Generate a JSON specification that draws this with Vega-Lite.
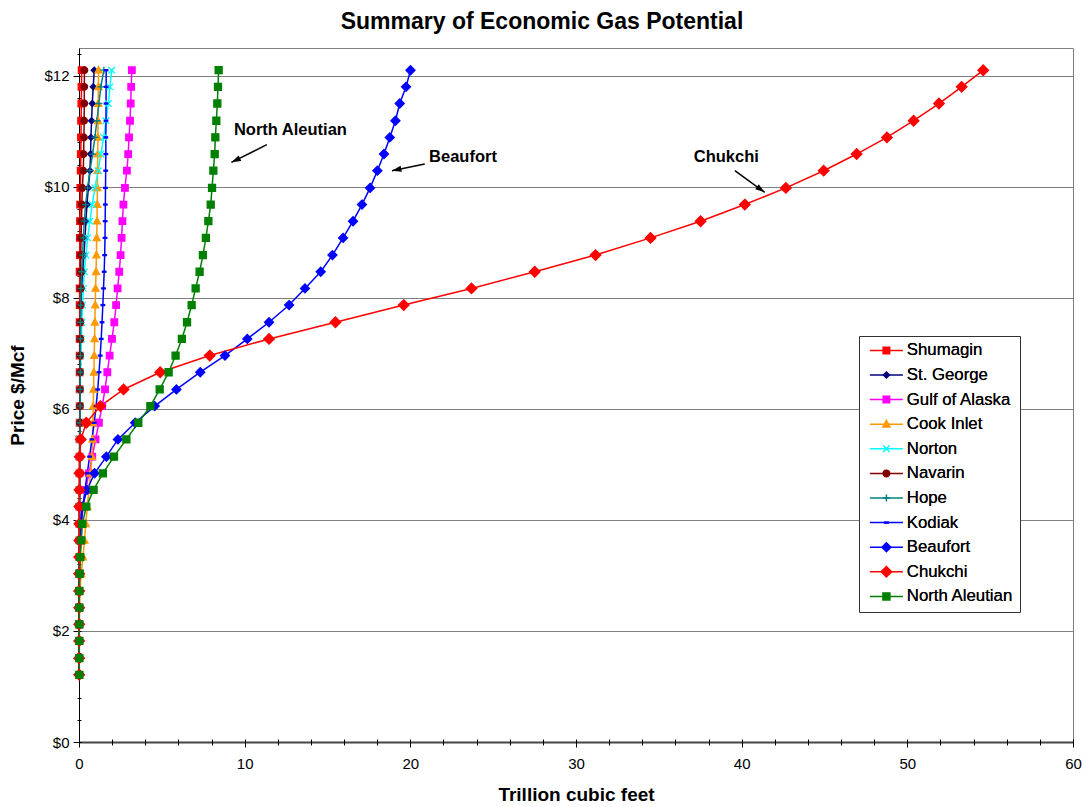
{
  "$schema": "https://vega.github.io/schema/vega-lite/v6.json",
  "width": 994,
  "height": 694,
  "autosize": {"type": "none"},
  "padding": {"left": 79, "top": 48, "right": 11, "bottom": 65},
  "background": "#ffffff",
  "title": {
    "text": "Summary of Economic Gas Potential",
    "font": "Liberation Sans",
    "fontSize": 23,
    "fontWeight": "bold",
    "color": "#000000",
    "anchor": "middle",
    "frame": "group",
    "dx": -34,
    "offset": 14
  },
  "config": {
    "view": {"stroke": "#808080", "strokeWidth": 1},
    "axis": {"labelFont": "Liberation Sans", "titleFont": "Liberation Sans", "labelColor": "#000000", "titleColor": "#000000"},
    "legend": {
      "title": null, "orient": "none", "legendX": 780, "legendY": 288,
      "padding": 6,
      "labelFont": "Liberation Sans", "labelFontSize": 16.8, "labelColor": "#000000",
      "symbolSize": 100, "symbolOffset": 13, "labelOffset": 12, "rowPadding": 6.6
    }
  },
  "datasets": {
    "gas": [
      {"region": "Shumagin", "price": 1.21, "tcf": 0.01}, {"region": "Shumagin", "price": 1.51, "tcf": 0.01}, {"region": "Shumagin", "price": 1.82, "tcf": 0.01}, {"region": "Shumagin", "price": 2.12, "tcf": 0.01}, {"region": "Shumagin", "price": 2.42, "tcf": 0.01}, {"region": "Shumagin", "price": 2.72, "tcf": 0.01}, {"region": "Shumagin", "price": 3.03, "tcf": 0.01}, {"region": "Shumagin", "price": 3.33, "tcf": 0.02}, {"region": "Shumagin", "price": 3.63, "tcf": 0.02}, {"region": "Shumagin", "price": 3.93, "tcf": 0.02}, {"region": "Shumagin", "price": 4.24, "tcf": 0.02}, {"region": "Shumagin", "price": 4.54, "tcf": 0.03}, {"region": "Shumagin", "price": 4.84, "tcf": 0.03}, {"region": "Shumagin", "price": 5.14, "tcf": 0.03}, {"region": "Shumagin", "price": 5.45, "tcf": 0.03}, {"region": "Shumagin", "price": 5.75, "tcf": 0.04}, {"region": "Shumagin", "price": 6.05, "tcf": 0.04}, {"region": "Shumagin", "price": 6.35, "tcf": 0.04}, {"region": "Shumagin", "price": 6.66, "tcf": 0.04}, {"region": "Shumagin", "price": 6.96, "tcf": 0.04}, {"region": "Shumagin", "price": 7.26, "tcf": 0.04}, {"region": "Shumagin", "price": 7.56, "tcf": 0.04}, {"region": "Shumagin", "price": 7.87, "tcf": 0.04}, {"region": "Shumagin", "price": 8.17, "tcf": 0.04}, {"region": "Shumagin", "price": 8.47, "tcf": 0.04}, {"region": "Shumagin", "price": 8.77, "tcf": 0.05}, {"region": "Shumagin", "price": 9.08, "tcf": 0.05}, {"region": "Shumagin", "price": 9.38, "tcf": 0.06}, {"region": "Shumagin", "price": 9.68, "tcf": 0.07}, {"region": "Shumagin", "price": 9.98, "tcf": 0.08}, {"region": "Shumagin", "price": 10.29, "tcf": 0.1}, {"region": "Shumagin", "price": 10.59, "tcf": 0.11}, {"region": "Shumagin", "price": 10.89, "tcf": 0.12}, {"region": "Shumagin", "price": 11.19, "tcf": 0.13}, {"region": "Shumagin", "price": 11.5, "tcf": 0.14}, {"region": "Shumagin", "price": 11.8, "tcf": 0.15}, {"region": "Shumagin", "price": 12.1, "tcf": 0.16},
      {"region": "St. George", "price": 1.21, "tcf": 0.01}, {"region": "St. George", "price": 1.51, "tcf": 0.01}, {"region": "St. George", "price": 1.82, "tcf": 0.01}, {"region": "St. George", "price": 2.12, "tcf": 0.01}, {"region": "St. George", "price": 2.42, "tcf": 0.01}, {"region": "St. George", "price": 2.72, "tcf": 0.01}, {"region": "St. George", "price": 3.03, "tcf": 0.01}, {"region": "St. George", "price": 3.33, "tcf": 0.02}, {"region": "St. George", "price": 3.63, "tcf": 0.02}, {"region": "St. George", "price": 3.93, "tcf": 0.03}, {"region": "St. George", "price": 4.24, "tcf": 0.03}, {"region": "St. George", "price": 4.54, "tcf": 0.04}, {"region": "St. George", "price": 4.84, "tcf": 0.04}, {"region": "St. George", "price": 5.14, "tcf": 0.04}, {"region": "St. George", "price": 5.45, "tcf": 0.05}, {"region": "St. George", "price": 5.75, "tcf": 0.05}, {"region": "St. George", "price": 6.05, "tcf": 0.05}, {"region": "St. George", "price": 6.35, "tcf": 0.06}, {"region": "St. George", "price": 6.66, "tcf": 0.06}, {"region": "St. George", "price": 6.96, "tcf": 0.07}, {"region": "St. George", "price": 7.26, "tcf": 0.08}, {"region": "St. George", "price": 7.56, "tcf": 0.1}, {"region": "St. George", "price": 7.87, "tcf": 0.12}, {"region": "St. George", "price": 8.17, "tcf": 0.16}, {"region": "St. George", "price": 8.47, "tcf": 0.22}, {"region": "St. George", "price": 8.77, "tcf": 0.3}, {"region": "St. George", "price": 9.08, "tcf": 0.36}, {"region": "St. George", "price": 9.38, "tcf": 0.42}, {"region": "St. George", "price": 9.68, "tcf": 0.48}, {"region": "St. George", "price": 9.98, "tcf": 0.56}, {"region": "St. George", "price": 10.29, "tcf": 0.66}, {"region": "St. George", "price": 10.59, "tcf": 0.7}, {"region": "St. George", "price": 10.89, "tcf": 0.72}, {"region": "St. George", "price": 11.19, "tcf": 0.76}, {"region": "St. George", "price": 11.5, "tcf": 0.8}, {"region": "St. George", "price": 11.8, "tcf": 0.86}, {"region": "St. George", "price": 12.1, "tcf": 0.92},
      {"region": "Gulf of Alaska", "price": 1.21, "tcf": 0.01}, {"region": "Gulf of Alaska", "price": 1.51, "tcf": 0.01}, {"region": "Gulf of Alaska", "price": 1.82, "tcf": 0.01}, {"region": "Gulf of Alaska", "price": 2.12, "tcf": 0.02}, {"region": "Gulf of Alaska", "price": 2.42, "tcf": 0.02}, {"region": "Gulf of Alaska", "price": 2.72, "tcf": 0.02}, {"region": "Gulf of Alaska", "price": 3.03, "tcf": 0.03}, {"region": "Gulf of Alaska", "price": 3.33, "tcf": 0.06}, {"region": "Gulf of Alaska", "price": 3.63, "tcf": 0.1}, {"region": "Gulf of Alaska", "price": 3.93, "tcf": 0.15}, {"region": "Gulf of Alaska", "price": 4.24, "tcf": 0.25}, {"region": "Gulf of Alaska", "price": 4.54, "tcf": 0.4}, {"region": "Gulf of Alaska", "price": 4.84, "tcf": 0.6}, {"region": "Gulf of Alaska", "price": 5.14, "tcf": 0.8}, {"region": "Gulf of Alaska", "price": 5.45, "tcf": 1.0}, {"region": "Gulf of Alaska", "price": 5.75, "tcf": 1.2}, {"region": "Gulf of Alaska", "price": 6.05, "tcf": 1.4}, {"region": "Gulf of Alaska", "price": 6.35, "tcf": 1.57}, {"region": "Gulf of Alaska", "price": 6.66, "tcf": 1.71}, {"region": "Gulf of Alaska", "price": 6.96, "tcf": 1.85}, {"region": "Gulf of Alaska", "price": 7.26, "tcf": 1.99}, {"region": "Gulf of Alaska", "price": 7.56, "tcf": 2.13}, {"region": "Gulf of Alaska", "price": 7.87, "tcf": 2.24}, {"region": "Gulf of Alaska", "price": 8.17, "tcf": 2.33}, {"region": "Gulf of Alaska", "price": 8.47, "tcf": 2.43}, {"region": "Gulf of Alaska", "price": 8.77, "tcf": 2.51}, {"region": "Gulf of Alaska", "price": 9.08, "tcf": 2.57}, {"region": "Gulf of Alaska", "price": 9.38, "tcf": 2.62}, {"region": "Gulf of Alaska", "price": 9.68, "tcf": 2.68}, {"region": "Gulf of Alaska", "price": 9.98, "tcf": 2.77}, {"region": "Gulf of Alaska", "price": 10.29, "tcf": 2.89}, {"region": "Gulf of Alaska", "price": 10.59, "tcf": 2.97}, {"region": "Gulf of Alaska", "price": 10.89, "tcf": 3.02}, {"region": "Gulf of Alaska", "price": 11.19, "tcf": 3.08}, {"region": "Gulf of Alaska", "price": 11.5, "tcf": 3.12}, {"region": "Gulf of Alaska", "price": 11.8, "tcf": 3.15}, {"region": "Gulf of Alaska", "price": 12.1, "tcf": 3.19},
      {"region": "Cook Inlet", "price": 1.21, "tcf": 0.01}, {"region": "Cook Inlet", "price": 1.51, "tcf": 0.01}, {"region": "Cook Inlet", "price": 1.82, "tcf": 0.01}, {"region": "Cook Inlet", "price": 2.12, "tcf": 0.01}, {"region": "Cook Inlet", "price": 2.42, "tcf": 0.03}, {"region": "Cook Inlet", "price": 2.72, "tcf": 0.06}, {"region": "Cook Inlet", "price": 3.03, "tcf": 0.13}, {"region": "Cook Inlet", "price": 3.33, "tcf": 0.24}, {"region": "Cook Inlet", "price": 3.63, "tcf": 0.33}, {"region": "Cook Inlet", "price": 3.93, "tcf": 0.41}, {"region": "Cook Inlet", "price": 4.24, "tcf": 0.5}, {"region": "Cook Inlet", "price": 4.54, "tcf": 0.6}, {"region": "Cook Inlet", "price": 4.84, "tcf": 0.7}, {"region": "Cook Inlet", "price": 5.14, "tcf": 0.78}, {"region": "Cook Inlet", "price": 5.45, "tcf": 0.82}, {"region": "Cook Inlet", "price": 5.75, "tcf": 0.84}, {"region": "Cook Inlet", "price": 6.05, "tcf": 0.86}, {"region": "Cook Inlet", "price": 6.35, "tcf": 0.88}, {"region": "Cook Inlet", "price": 6.66, "tcf": 0.9}, {"region": "Cook Inlet", "price": 6.96, "tcf": 0.92}, {"region": "Cook Inlet", "price": 7.26, "tcf": 0.94}, {"region": "Cook Inlet", "price": 7.56, "tcf": 0.96}, {"region": "Cook Inlet", "price": 7.87, "tcf": 0.98}, {"region": "Cook Inlet", "price": 8.17, "tcf": 1.0}, {"region": "Cook Inlet", "price": 8.47, "tcf": 1.03}, {"region": "Cook Inlet", "price": 8.77, "tcf": 1.05}, {"region": "Cook Inlet", "price": 9.08, "tcf": 1.07}, {"region": "Cook Inlet", "price": 9.38, "tcf": 1.09}, {"region": "Cook Inlet", "price": 9.68, "tcf": 1.1}, {"region": "Cook Inlet", "price": 9.98, "tcf": 1.11}, {"region": "Cook Inlet", "price": 10.29, "tcf": 1.12}, {"region": "Cook Inlet", "price": 10.59, "tcf": 1.13}, {"region": "Cook Inlet", "price": 10.89, "tcf": 1.14}, {"region": "Cook Inlet", "price": 11.19, "tcf": 1.15}, {"region": "Cook Inlet", "price": 11.5, "tcf": 1.16}, {"region": "Cook Inlet", "price": 11.8, "tcf": 1.17}, {"region": "Cook Inlet", "price": 12.1, "tcf": 1.18},
      {"region": "Norton", "price": 1.21, "tcf": 0.01}, {"region": "Norton", "price": 1.51, "tcf": 0.01}, {"region": "Norton", "price": 1.82, "tcf": 0.01}, {"region": "Norton", "price": 2.12, "tcf": 0.01}, {"region": "Norton", "price": 2.42, "tcf": 0.01}, {"region": "Norton", "price": 2.72, "tcf": 0.01}, {"region": "Norton", "price": 3.03, "tcf": 0.01}, {"region": "Norton", "price": 3.33, "tcf": 0.02}, {"region": "Norton", "price": 3.63, "tcf": 0.02}, {"region": "Norton", "price": 3.93, "tcf": 0.02}, {"region": "Norton", "price": 4.24, "tcf": 0.02}, {"region": "Norton", "price": 4.54, "tcf": 0.03}, {"region": "Norton", "price": 4.84, "tcf": 0.03}, {"region": "Norton", "price": 5.14, "tcf": 0.03}, {"region": "Norton", "price": 5.45, "tcf": 0.04}, {"region": "Norton", "price": 5.75, "tcf": 0.05}, {"region": "Norton", "price": 6.05, "tcf": 0.06}, {"region": "Norton", "price": 6.35, "tcf": 0.07}, {"region": "Norton", "price": 6.66, "tcf": 0.09}, {"region": "Norton", "price": 6.96, "tcf": 0.11}, {"region": "Norton", "price": 7.26, "tcf": 0.14}, {"region": "Norton", "price": 7.56, "tcf": 0.17}, {"region": "Norton", "price": 7.87, "tcf": 0.21}, {"region": "Norton", "price": 8.17, "tcf": 0.26}, {"region": "Norton", "price": 8.47, "tcf": 0.32}, {"region": "Norton", "price": 8.77, "tcf": 0.42}, {"region": "Norton", "price": 9.08, "tcf": 0.52}, {"region": "Norton", "price": 9.38, "tcf": 0.66}, {"region": "Norton", "price": 9.68, "tcf": 0.8}, {"region": "Norton", "price": 9.98, "tcf": 0.96}, {"region": "Norton", "price": 10.29, "tcf": 1.16}, {"region": "Norton", "price": 10.59, "tcf": 1.32}, {"region": "Norton", "price": 10.89, "tcf": 1.49}, {"region": "Norton", "price": 11.19, "tcf": 1.63}, {"region": "Norton", "price": 11.5, "tcf": 1.77}, {"region": "Norton", "price": 11.8, "tcf": 1.87}, {"region": "Norton", "price": 12.1, "tcf": 1.97},
      {"region": "Navarin", "price": 1.21, "tcf": 0.01}, {"region": "Navarin", "price": 1.51, "tcf": 0.01}, {"region": "Navarin", "price": 1.82, "tcf": 0.01}, {"region": "Navarin", "price": 2.12, "tcf": 0.01}, {"region": "Navarin", "price": 2.42, "tcf": 0.01}, {"region": "Navarin", "price": 2.72, "tcf": 0.01}, {"region": "Navarin", "price": 3.03, "tcf": 0.01}, {"region": "Navarin", "price": 3.33, "tcf": 0.02}, {"region": "Navarin", "price": 3.63, "tcf": 0.02}, {"region": "Navarin", "price": 3.93, "tcf": 0.02}, {"region": "Navarin", "price": 4.24, "tcf": 0.03}, {"region": "Navarin", "price": 4.54, "tcf": 0.03}, {"region": "Navarin", "price": 4.84, "tcf": 0.04}, {"region": "Navarin", "price": 5.14, "tcf": 0.04}, {"region": "Navarin", "price": 5.45, "tcf": 0.05}, {"region": "Navarin", "price": 5.75, "tcf": 0.05}, {"region": "Navarin", "price": 6.05, "tcf": 0.06}, {"region": "Navarin", "price": 6.35, "tcf": 0.06}, {"region": "Navarin", "price": 6.66, "tcf": 0.07}, {"region": "Navarin", "price": 6.96, "tcf": 0.07}, {"region": "Navarin", "price": 7.26, "tcf": 0.08}, {"region": "Navarin", "price": 7.56, "tcf": 0.08}, {"region": "Navarin", "price": 7.87, "tcf": 0.09}, {"region": "Navarin", "price": 8.17, "tcf": 0.1}, {"region": "Navarin", "price": 8.47, "tcf": 0.1}, {"region": "Navarin", "price": 8.77, "tcf": 0.11}, {"region": "Navarin", "price": 9.08, "tcf": 0.12}, {"region": "Navarin", "price": 9.38, "tcf": 0.15}, {"region": "Navarin", "price": 9.68, "tcf": 0.17}, {"region": "Navarin", "price": 9.98, "tcf": 0.2}, {"region": "Navarin", "price": 10.29, "tcf": 0.26}, {"region": "Navarin", "price": 10.59, "tcf": 0.28}, {"region": "Navarin", "price": 10.89, "tcf": 0.3}, {"region": "Navarin", "price": 11.19, "tcf": 0.31}, {"region": "Navarin", "price": 11.5, "tcf": 0.32}, {"region": "Navarin", "price": 11.8, "tcf": 0.32}, {"region": "Navarin", "price": 12.1, "tcf": 0.33},
      {"region": "Hope", "price": 1.21, "tcf": 0.01}, {"region": "Hope", "price": 1.51, "tcf": 0.01}, {"region": "Hope", "price": 1.82, "tcf": 0.01}, {"region": "Hope", "price": 2.12, "tcf": 0.01}, {"region": "Hope", "price": 2.42, "tcf": 0.01}, {"region": "Hope", "price": 2.72, "tcf": 0.01}, {"region": "Hope", "price": 3.03, "tcf": 0.01}, {"region": "Hope", "price": 3.33, "tcf": 0.02}, {"region": "Hope", "price": 3.63, "tcf": 0.02}, {"region": "Hope", "price": 3.93, "tcf": 0.03}, {"region": "Hope", "price": 4.24, "tcf": 0.03}, {"region": "Hope", "price": 4.54, "tcf": 0.04}, {"region": "Hope", "price": 4.84, "tcf": 0.05}, {"region": "Hope", "price": 5.14, "tcf": 0.05}, {"region": "Hope", "price": 5.45, "tcf": 0.06}, {"region": "Hope", "price": 5.75, "tcf": 0.06}, {"region": "Hope", "price": 6.05, "tcf": 0.07}, {"region": "Hope", "price": 6.35, "tcf": 0.07}, {"region": "Hope", "price": 6.66, "tcf": 0.08}, {"region": "Hope", "price": 6.96, "tcf": 0.08}, {"region": "Hope", "price": 7.26, "tcf": 0.09}, {"region": "Hope", "price": 7.56, "tcf": 0.09}, {"region": "Hope", "price": 7.87, "tcf": 0.1}, {"region": "Hope", "price": 8.17, "tcf": 0.12}, {"region": "Hope", "price": 8.47, "tcf": 0.16}, {"region": "Hope", "price": 8.77, "tcf": 0.22}, {"region": "Hope", "price": 9.08, "tcf": 0.26}, {"region": "Hope", "price": 9.38, "tcf": 0.32}, {"region": "Hope", "price": 9.68, "tcf": 0.4}, {"region": "Hope", "price": 9.98, "tcf": 0.52}, {"region": "Hope", "price": 10.29, "tcf": 0.66}, {"region": "Hope", "price": 10.59, "tcf": 0.82}, {"region": "Hope", "price": 10.89, "tcf": 0.96}, {"region": "Hope", "price": 11.19, "tcf": 1.08}, {"region": "Hope", "price": 11.5, "tcf": 1.2}, {"region": "Hope", "price": 11.8, "tcf": 1.32}, {"region": "Hope", "price": 12.1, "tcf": 1.5},
      {"region": "Kodiak", "price": 1.21, "tcf": 0.01}, {"region": "Kodiak", "price": 1.51, "tcf": 0.01}, {"region": "Kodiak", "price": 1.82, "tcf": 0.01}, {"region": "Kodiak", "price": 2.12, "tcf": 0.01}, {"region": "Kodiak", "price": 2.42, "tcf": 0.01}, {"region": "Kodiak", "price": 2.72, "tcf": 0.02}, {"region": "Kodiak", "price": 3.03, "tcf": 0.02}, {"region": "Kodiak", "price": 3.33, "tcf": 0.03}, {"region": "Kodiak", "price": 3.63, "tcf": 0.07}, {"region": "Kodiak", "price": 3.93, "tcf": 0.13}, {"region": "Kodiak", "price": 4.24, "tcf": 0.23}, {"region": "Kodiak", "price": 4.54, "tcf": 0.36}, {"region": "Kodiak", "price": 4.84, "tcf": 0.5}, {"region": "Kodiak", "price": 5.14, "tcf": 0.64}, {"region": "Kodiak", "price": 5.45, "tcf": 0.78}, {"region": "Kodiak", "price": 5.75, "tcf": 0.92}, {"region": "Kodiak", "price": 6.05, "tcf": 1.03}, {"region": "Kodiak", "price": 6.35, "tcf": 1.13}, {"region": "Kodiak", "price": 6.66, "tcf": 1.21}, {"region": "Kodiak", "price": 6.96, "tcf": 1.28}, {"region": "Kodiak", "price": 7.26, "tcf": 1.34}, {"region": "Kodiak", "price": 7.56, "tcf": 1.39}, {"region": "Kodiak", "price": 7.87, "tcf": 1.44}, {"region": "Kodiak", "price": 8.17, "tcf": 1.48}, {"region": "Kodiak", "price": 8.47, "tcf": 1.52}, {"region": "Kodiak", "price": 8.77, "tcf": 1.55}, {"region": "Kodiak", "price": 9.08, "tcf": 1.57}, {"region": "Kodiak", "price": 9.38, "tcf": 1.58}, {"region": "Kodiak", "price": 9.68, "tcf": 1.59}, {"region": "Kodiak", "price": 9.98, "tcf": 1.6}, {"region": "Kodiak", "price": 10.29, "tcf": 1.61}, {"region": "Kodiak", "price": 10.59, "tcf": 1.62}, {"region": "Kodiak", "price": 10.89, "tcf": 1.62}, {"region": "Kodiak", "price": 11.19, "tcf": 1.63}, {"region": "Kodiak", "price": 11.5, "tcf": 1.63}, {"region": "Kodiak", "price": 11.8, "tcf": 1.64}, {"region": "Kodiak", "price": 12.1, "tcf": 1.64},
      {"region": "Beaufort", "price": 1.21, "tcf": 0.01}, {"region": "Beaufort", "price": 1.51, "tcf": 0.01}, {"region": "Beaufort", "price": 1.82, "tcf": 0.01}, {"region": "Beaufort", "price": 2.12, "tcf": 0.01}, {"region": "Beaufort", "price": 2.42, "tcf": 0.01}, {"region": "Beaufort", "price": 2.72, "tcf": 0.01}, {"region": "Beaufort", "price": 3.03, "tcf": 0.02}, {"region": "Beaufort", "price": 3.33, "tcf": 0.02}, {"region": "Beaufort", "price": 3.63, "tcf": 0.03}, {"region": "Beaufort", "price": 3.93, "tcf": 0.07}, {"region": "Beaufort", "price": 4.24, "tcf": 0.2}, {"region": "Beaufort", "price": 4.54, "tcf": 0.48}, {"region": "Beaufort", "price": 4.84, "tcf": 0.94}, {"region": "Beaufort", "price": 5.14, "tcf": 1.65}, {"region": "Beaufort", "price": 5.45, "tcf": 2.35}, {"region": "Beaufort", "price": 5.75, "tcf": 3.39}, {"region": "Beaufort", "price": 6.05, "tcf": 4.57}, {"region": "Beaufort", "price": 6.35, "tcf": 5.88}, {"region": "Beaufort", "price": 6.66, "tcf": 7.32}, {"region": "Beaufort", "price": 6.96, "tcf": 8.81}, {"region": "Beaufort", "price": 7.26, "tcf": 10.16}, {"region": "Beaufort", "price": 7.56, "tcf": 11.47}, {"region": "Beaufort", "price": 7.87, "tcf": 12.68}, {"region": "Beaufort", "price": 8.17, "tcf": 13.64}, {"region": "Beaufort", "price": 8.47, "tcf": 14.59}, {"region": "Beaufort", "price": 8.77, "tcf": 15.3}, {"region": "Beaufort", "price": 9.08, "tcf": 15.94}, {"region": "Beaufort", "price": 9.38, "tcf": 16.54}, {"region": "Beaufort", "price": 9.68, "tcf": 17.08}, {"region": "Beaufort", "price": 9.98, "tcf": 17.57}, {"region": "Beaufort", "price": 10.29, "tcf": 18.01}, {"region": "Beaufort", "price": 10.59, "tcf": 18.41}, {"region": "Beaufort", "price": 10.89, "tcf": 18.76}, {"region": "Beaufort", "price": 11.19, "tcf": 19.1}, {"region": "Beaufort", "price": 11.5, "tcf": 19.36}, {"region": "Beaufort", "price": 11.8, "tcf": 19.74}, {"region": "Beaufort", "price": 12.1, "tcf": 20.01},
      {"region": "Chukchi", "price": 1.21, "tcf": 0.01}, {"region": "Chukchi", "price": 1.51, "tcf": 0.01}, {"region": "Chukchi", "price": 1.82, "tcf": 0.01}, {"region": "Chukchi", "price": 2.12, "tcf": 0.01}, {"region": "Chukchi", "price": 2.42, "tcf": 0.01}, {"region": "Chukchi", "price": 2.72, "tcf": 0.01}, {"region": "Chukchi", "price": 3.03, "tcf": 0.01}, {"region": "Chukchi", "price": 3.33, "tcf": 0.01}, {"region": "Chukchi", "price": 3.63, "tcf": 0.02}, {"region": "Chukchi", "price": 3.93, "tcf": 0.02}, {"region": "Chukchi", "price": 4.24, "tcf": 0.02}, {"region": "Chukchi", "price": 4.54, "tcf": 0.03}, {"region": "Chukchi", "price": 4.84, "tcf": 0.03}, {"region": "Chukchi", "price": 5.14, "tcf": 0.04}, {"region": "Chukchi", "price": 5.45, "tcf": 0.11}, {"region": "Chukchi", "price": 5.75, "tcf": 0.44}, {"region": "Chukchi", "price": 6.05, "tcf": 1.29}, {"region": "Chukchi", "price": 6.35, "tcf": 2.69}, {"region": "Chukchi", "price": 6.66, "tcf": 4.9}, {"region": "Chukchi", "price": 6.96, "tcf": 7.89}, {"region": "Chukchi", "price": 7.26, "tcf": 11.47}, {"region": "Chukchi", "price": 7.56, "tcf": 15.48}, {"region": "Chukchi", "price": 7.87, "tcf": 19.6}, {"region": "Chukchi", "price": 8.17, "tcf": 23.69}, {"region": "Chukchi", "price": 8.47, "tcf": 27.51}, {"region": "Chukchi", "price": 8.77, "tcf": 31.18}, {"region": "Chukchi", "price": 9.08, "tcf": 34.5}, {"region": "Chukchi", "price": 9.38, "tcf": 37.52}, {"region": "Chukchi", "price": 9.68, "tcf": 40.19}, {"region": "Chukchi", "price": 9.98, "tcf": 42.67}, {"region": "Chukchi", "price": 10.29, "tcf": 44.95}, {"region": "Chukchi", "price": 10.59, "tcf": 46.94}, {"region": "Chukchi", "price": 10.89, "tcf": 48.77}, {"region": "Chukchi", "price": 11.19, "tcf": 50.38}, {"region": "Chukchi", "price": 11.5, "tcf": 51.91}, {"region": "Chukchi", "price": 11.8, "tcf": 53.28}, {"region": "Chukchi", "price": 12.1, "tcf": 54.58},
      {"region": "North Aleutian", "price": 1.21, "tcf": 0.02}, {"region": "North Aleutian", "price": 1.51, "tcf": 0.02}, {"region": "North Aleutian", "price": 1.82, "tcf": 0.02}, {"region": "North Aleutian", "price": 2.12, "tcf": 0.02}, {"region": "North Aleutian", "price": 2.42, "tcf": 0.02}, {"region": "North Aleutian", "price": 2.72, "tcf": 0.02}, {"region": "North Aleutian", "price": 3.03, "tcf": 0.04}, {"region": "North Aleutian", "price": 3.33, "tcf": 0.08}, {"region": "North Aleutian", "price": 3.63, "tcf": 0.14}, {"region": "North Aleutian", "price": 3.93, "tcf": 0.2}, {"region": "North Aleutian", "price": 4.24, "tcf": 0.44}, {"region": "North Aleutian", "price": 4.54, "tcf": 0.88}, {"region": "North Aleutian", "price": 4.84, "tcf": 1.44}, {"region": "North Aleutian", "price": 5.14, "tcf": 2.11}, {"region": "North Aleutian", "price": 5.45, "tcf": 2.86}, {"region": "North Aleutian", "price": 5.75, "tcf": 3.58}, {"region": "North Aleutian", "price": 6.05, "tcf": 4.31}, {"region": "North Aleutian", "price": 6.35, "tcf": 4.87}, {"region": "North Aleutian", "price": 6.66, "tcf": 5.41}, {"region": "North Aleutian", "price": 6.96, "tcf": 5.83}, {"region": "North Aleutian", "price": 7.26, "tcf": 6.21}, {"region": "North Aleutian", "price": 7.56, "tcf": 6.52}, {"region": "North Aleutian", "price": 7.87, "tcf": 6.8}, {"region": "North Aleutian", "price": 8.17, "tcf": 7.04}, {"region": "North Aleutian", "price": 8.47, "tcf": 7.28}, {"region": "North Aleutian", "price": 8.77, "tcf": 7.48}, {"region": "North Aleutian", "price": 9.08, "tcf": 7.66}, {"region": "North Aleutian", "price": 9.38, "tcf": 7.81}, {"region": "North Aleutian", "price": 9.68, "tcf": 7.95}, {"region": "North Aleutian", "price": 9.98, "tcf": 8.03}, {"region": "North Aleutian", "price": 10.29, "tcf": 8.11}, {"region": "North Aleutian", "price": 10.59, "tcf": 8.19}, {"region": "North Aleutian", "price": 10.89, "tcf": 8.23}, {"region": "North Aleutian", "price": 11.19, "tcf": 8.29}, {"region": "North Aleutian", "price": 11.5, "tcf": 8.35}, {"region": "North Aleutian", "price": 11.8, "tcf": 8.39}, {"region": "North Aleutian", "price": 12.1, "tcf": 8.43}
    ],
    "notes": [
      {"label": "North Aleutian", "textX": 9.35, "textY": 11.03, "fromX": 11.34, "fromY": 10.76, "toX": 9.2, "toY": 10.44},
      {"label": "Beaufort", "textX": 21.13, "textY": 10.54, "fromX": 20.87, "fromY": 10.41, "toX": 18.89, "toY": 10.29},
      {"label": "Chukchi", "textX": 37.11, "textY": 10.53, "fromX": 39.59, "fromY": 10.29, "toX": 41.39, "toY": 9.9}
    ]
  },
  "layer": [
    {
      "data": {"name": "gas"},
      "mark": {"type": "line", "strokeWidth": 1.5},
      "encoding": {
        "x": {
          "field": "tcf", "type": "quantitative",
          "scale": {"domain": [0, 60], "nice": false, "zero": true},
          "axis": {
            "title": "Trillion cubic feet", "titleFontSize": 19, "titleFontWeight": "bold", "titlePadding": 14,
            "values": [0, 10, 20, 30, 40, 50, 60], "grid": false,
            "tickSize": 5, "tickColor": "#000000", "labelFontSize": 15, "labelPadding": 9, "labelFlush": false,
            "domainColor": "#444444", "domainWidth": 2
          }
        },
        "y": {
          "field": "price", "type": "quantitative",
          "scale": {"domain": [0, 12.5], "nice": false, "zero": true},
          "axis": {
            "title": "Price $/Mcf", "titleFontSize": 19, "titleFontWeight": "bold", "titlePadding": 16,
            "values": [0, 2, 4, 6, 8, 10, 12], "labelExpr": "'$' + datum.value",
            "grid": true, "gridColor": "#808080", "gridWidth": 1,
            "tickSize": 6, "tickColor": "#000000", "labelFontSize": 15, "labelPadding": 4,
            "domainColor": "#000000", "domainWidth": 1
          }
        },
        "color": {
          "field": "region", "type": "nominal",
          "scale": {
            "domain": ["Shumagin", "St. George", "Gulf of Alaska", "Cook Inlet", "Norton", "Navarin", "Hope", "Kodiak", "Beaufort", "Chukchi", "North Aleutian"],
            "range": ["#FF0000", "#000080", "#FF00FF", "#FF9900", "#00FFFF", "#800000", "#008080", "#0000FF", "#0000FF", "#FF0000", "#008000"]
          },
          "legend": {"symbolType": "M-3.3,0H3.3", "symbolStrokeWidth": 1.5, "fillColor": "#ffffff", "strokeColor": "#333333"}
        },
        "order": {"field": "price", "type": "quantitative"}
      }
    },
    {
      "data": {"name": "gas"},
      "mark": {"type": "point", "filled": true, "opacity": 1, "size": 100, "strokeWidth": 1.3},
      "encoding": {
        "x": {
          "field": "tcf", "type": "quantitative",
          "axis": {
            "orient": "bottom", "values": [0, 2, 4, 6, 8, 10, 12, 14, 16, 18, 20, 22, 24, 26, 28, 30, 32, 34, 36, 38, 40, 42, 44, 46, 48, 50, 52, 54, 56, 58, 60],
            "labels": false, "domain": false, "grid": false, "title": null,
            "tickSize": 6, "offset": -3, "tickColor": "#000000"
          }
        },
        "y": {
          "field": "price", "type": "quantitative",
          "axis": {
            "orient": "left", "values": [0, 0.4, 0.8, 1.2, 1.6, 2, 2.4, 2.8, 3.2, 3.6, 4, 4.4, 4.8, 5.2, 5.6, 6, 6.4, 6.8, 7.2, 7.6, 8, 8.4, 8.8, 9.2, 9.6, 10, 10.4, 10.8, 11.2, 11.6, 12, 12.4],
            "labels": false, "domain": false, "grid": false, "title": null,
            "tickSize": 4, "offset": -2, "tickColor": "#000000"
          }
        },
        "color": {
          "field": "region", "type": "nominal",
          "scale": {
            "domain": ["Shumagin", "St. George", "Gulf of Alaska", "Cook Inlet", "Norton", "Navarin", "Hope", "Kodiak", "Beaufort", "Chukchi", "North Aleutian"],
            "range": ["#FF0000", "#000080", "#FF00FF", "#FF9900", "#00FFFF", "#800000", "#008080", "#0000FF", "#0000FF", "#FF0000", "#008000"]
          },
          "legend": {"fillColor": "transparent", "strokeColor": "transparent"}
        },
        "stroke": {
          "field": "region", "type": "nominal",
          "scale": {
            "domain": ["Shumagin", "St. George", "Gulf of Alaska", "Cook Inlet", "Norton", "Navarin", "Hope", "Kodiak", "Beaufort", "Chukchi", "North Aleutian"],
            "range": ["#FF0000", "#000080", "#FF00FF", "#FF9900", "#00FFFF", "#800000", "#008080", "#0000FF", "#0000FF", "#FF0000", "#008000"]
          },
          "legend": {"fillColor": "transparent", "strokeColor": "transparent"}
        },
        "shape": {
          "field": "region", "type": "nominal",
          "scale": {
            "domain": ["Shumagin", "St. George", "Gulf of Alaska", "Cook Inlet", "Norton", "Navarin", "Hope", "Kodiak", "Beaufort", "Chukchi", "North Aleutian"],
            "range": [
              "M-0.65,-0.65H0.65V0.65H-0.65Z",
              "M0,-0.6L0.6,0L0,0.6L-0.6,0Z",
              "M-0.65,-0.65H0.65V0.65H-0.65Z",
              "M0,-0.75L0.7,0.55H-0.7Z",
              "M-0.65,-0.65L0.65,0.65M-0.65,0.65L0.65,-0.65",
              "M-0.65,0A0.65,0.65,0,1,1,0.65,0A0.65,0.65,0,1,1,-0.65,0Z",
              "M-0.7,0H0.7M0,-0.7V0.7",
              "M-0.35,-0.1H0.35V0.1H-0.35Z",
              "M0,-0.9L0.9,0L0,0.9L-0.9,0Z",
              "M0,-1.05L1.05,0L0,1.05L-1.05,0Z",
              "M-0.7,-0.7H0.7V0.7H-0.7Z"
            ]
          },
          "legend": {"fillColor": "transparent", "strokeColor": "transparent"}
        }
      }
    },
    {
      "data": {"name": "notes"},
      "mark": {"type": "rule", "color": "#000000", "strokeWidth": 1.5},
      "encoding": {
        "x": {"field": "fromX", "type": "quantitative", "axis": null},
        "y": {"field": "fromY", "type": "quantitative", "axis": null},
        "x2": {"field": "toX"},
        "y2": {"field": "toY"}
      }
    },
    {
      "data": {"name": "notes"},
      "mark": {"type": "point", "filled": true, "color": "#000000", "opacity": 1, "size": 100, "shape": "M0,0L-0.6,1.9L0.6,1.9Z"},
      "encoding": {
        "x": {"field": "toX", "type": "quantitative", "axis": null},
        "y": {"field": "toY", "type": "quantitative", "axis": null},
        "angle": {
          "condition": [
            {"test": "datum.label === 'Beaufort'", "value": 258},
            {"test": "datum.label === 'Chukchi'", "value": 126}
          ],
          "value": 244
        }
      }
    },
    {
      "data": {"name": "notes"},
      "mark": {"type": "text", "align": "left", "baseline": "middle", "font": "Liberation Sans", "fontSize": 16.5, "fontWeight": "bold", "color": "#000000"},
      "encoding": {
        "x": {"field": "textX", "type": "quantitative", "axis": null},
        "y": {"field": "textY", "type": "quantitative", "axis": null},
        "text": {"field": "label"}
      }
    }
  ],
  "resolve": {
    "scale": {"color": "independent", "stroke": "independent", "shape": "independent"},
    "axis": {"x": "independent", "y": "independent"}
  }
}
